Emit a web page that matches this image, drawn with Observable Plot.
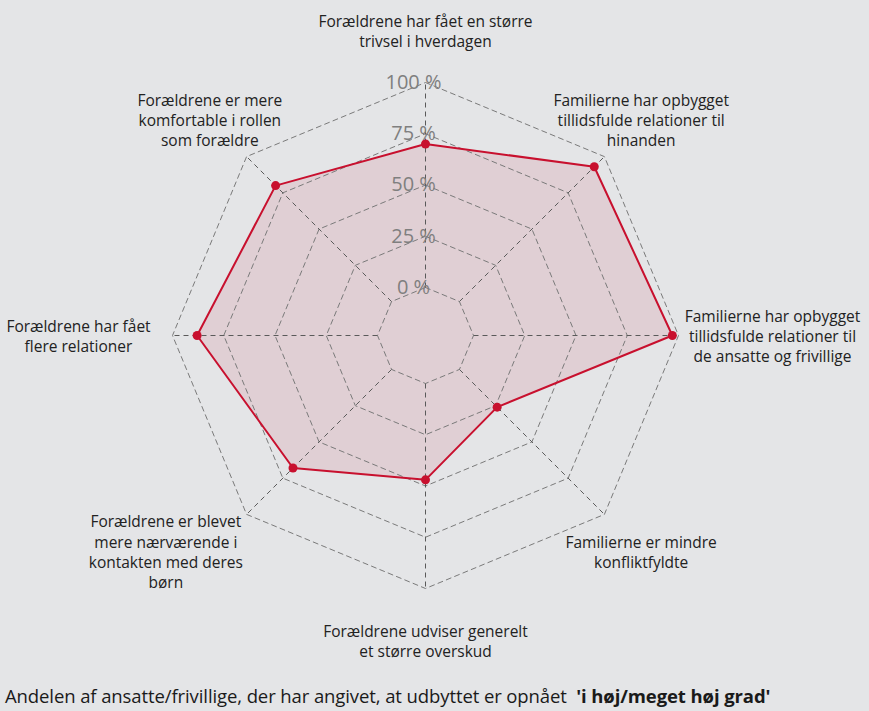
<!DOCTYPE html>
<html>
<head>
<meta charset="utf-8">
<script src="https://cdn.jsdelivr.net/npm/d3@7"></script>
<script src="https://cdn.jsdelivr.net/npm/@observablehq/plot@0.6"></script>
<style>
  html, body { margin: 0; padding: 0; background: #e4e5e7; }
  #chart svg { display: block; }
  #caption { font-family: "Open Sans", sans-serif; font-size: 18.5px; color: #1a1a1a; padding-left: 5px; height: 31px; line-height: 31px; white-space: pre; letter-spacing: -0.1px; }
</style>
</head>
<body>
<div id="chart"></div>
<div id="caption">Andelen af ansatte/frivillige, der har angivet, at udbyttet er opnået  <b>'i høj/meget høj grad'</b></div>
<script>
const categories = [
  "Forældrene har fået en større\ntrivsel i hverdagen",
  "Familierne har opbygget\ntillidsfulde relationer til\nhinanden",
  "Familierne har opbygget\ntillidsfulde relationer til\nde ansatte og frivillige",
  "Familierne er mindre\nkonfliktfyldte",
  "Forældrene udviser generelt\net større overskud",
  "Forældrene er blevet\nmere nærværende i\nkontakten med deres\nbørn",
  "Forældrene har fået\nflere relationer",
  "Forældrene er mere\nkomfortable i rollen\nsom forældre"
];
const values = [70, 93, 97, 26, 47, 68, 88, 80];
const ticks = [0, 25, 50, 75, 100];
const tickLabels = ["0 %", "25 %", "50 %", "75 %", "100 %"];

const W = 869, H = 680;
const n = categories.length;
const r = d3.scaleLinear().domain([0, 100]).range([48, 253]);
const ang = i => (i * 2 * Math.PI) / n;
const px = (i, rad) => rad * Math.sin(ang(i));
const py = (i, rad) => rad * Math.cos(ang(i));

const rings = ticks.flatMap(t => d3.range(n).map(i => ({t, x: px(i, r(t)), y: py(i, r(t))})));
const spokes = d3.range(n).map(i => ({x1: px(i, r(0)), y1: py(i, r(0)), x2: px(i, r(100)), y2: py(i, r(100))}));
const pts = values.map((v, i) => ({v, x: px(i, r(v)), y: py(i, r(v))}));
const labelR = i => (i % 4 === 2 ? 347 : 305);
const labelShift = i => (i === 5 ? -44 : 0);
const labels = categories.map((c, i) => ({text: c, x: px(i, labelR(i)) + labelShift(i), y: py(i, labelR(i))}));
const tickData = ticks.map((t, k) => ({label: tickLabels[k], x: 0, y: r(t)}));

const chart = Plot.plot({
  width: W, height: H,
  margin: 0,
  x: {domain: [-425, 444], range: [0, W], axis: null},
  y: {domain: [335, -345], range: [0, H], axis: null},
  style: {background: "#e4e5e7", fontFamily: "'Open Sans', sans-serif"},
  marks: [
    Plot.line(pts, {x: "x", y: "y", curve: "linear-closed", fill: "#c8102e", fillOpacity: 0.1, stroke: "none"}),
    Plot.line(rings, {x: "x", y: "y", z: "t", curve: "linear-closed", stroke: "#7a7a7a", strokeWidth: 1, strokeDasharray: "5,4"}),
    Plot.link(spokes, {x1: "x1", y1: "y1", x2: "x2", y2: "y2", stroke: "#5a5a5a", strokeWidth: 1, strokeDasharray: "5,4"}),
    Plot.line(pts, {x: "x", y: "y", curve: "linear-closed", stroke: "#c8102e", strokeWidth: 2}),
    Plot.dot(pts, {x: "x", y: "y", r: 4.5, fill: "#c8102e", stroke: "none"}),
    Plot.text(tickData, {x: "x", y: "y", text: "label", dx: -12, fontSize: 20, fill: "#7f7f7f", textAnchor: "middle"}),
    Plot.text(labels, {x: "x", y: "y", text: "text", fontSize: 15.5, lineHeight: 1.3, fill: "#222", textAnchor: "middle", lineAnchor: "middle"})
  ]
});
document.getElementById("chart").appendChild(chart);
</script>
</body>
</html>
